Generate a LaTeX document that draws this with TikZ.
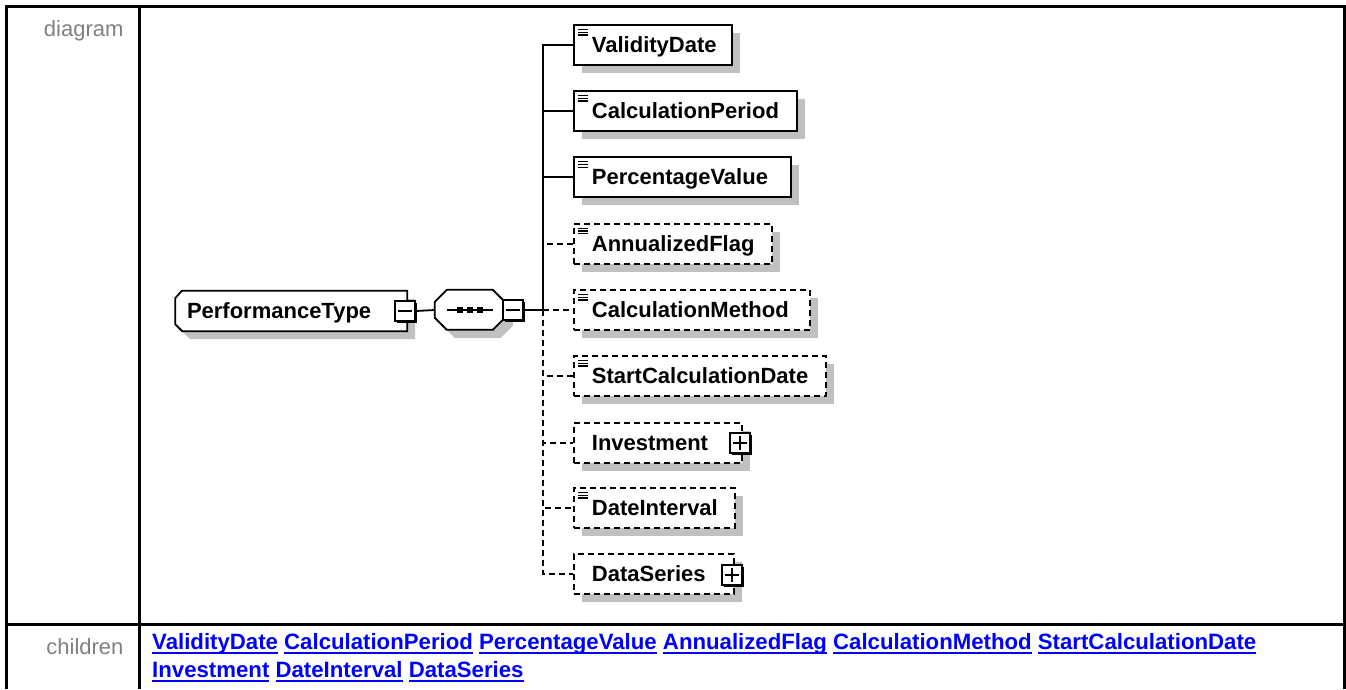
\documentclass[tikz,border=0pt]{standalone}
\usepackage{fontspec}
\setmainfont{Liberation Sans}
\usetikzlibrary{shadows,backgrounds}
\definecolor{shadowgray}{RGB}{192,192,192}
\definecolor{labelgray}{RGB}{128,128,128}
\definecolor{linkblue}{RGB}{0,0,255}
\newcommand{\lnk}[1]{\setbox0\hbox{#1}\rlap{\rule[-4.5pt]{\wd0}{1.6pt}}\box0\relax}
\begin{document}
\begin{tikzpicture}[x=1pt,y=-1pt,
  every node/.style={font=\bfseries\fontsize{22}{26}\selectfont},
  elem/.style={rectangle, draw=black, line width=1.8pt, fill=white, anchor=west,
    minimum height=40pt, inner xsep=0pt, inner ysep=0pt, align=left,
    text height=15pt, text depth=0pt,
    drop shadow={shadow xshift=8pt, shadow yshift=-8pt, fill=shadowgray, opacity=1}},
  optelem/.style={elem, dash pattern=on 6pt off 4pt},
  icon/.style={path picture={\foreach \k in {4.5,7.2,9.9}{\draw[solid,line width=1.2pt] ([xshift=4pt,yshift=-\k pt]path picture bounding box.north west) -- ++(10,0);}}},
  pmbox/.style={rectangle, draw=black, fill=white, line width=1.5pt, minimum width=20pt, minimum height=20pt, inner sep=0pt,
    drop shadow={shadow xshift=2pt, shadow yshift=-2pt, fill=black, opacity=1}},
  conn/.style={line width=1.8pt},
  optconn/.style={conn, dash pattern=on 6pt off 4pt},
  frame/.style={line width=2.6pt},
  lbl/.style={font=\mdseries\fontsize{22}{26}\selectfont, text=labelgray},
  links/.style={text=linkblue, anchor=base west, inner sep=0pt, font=\bfseries\fontsize{22.2}{26}\selectfont}
]
\useasboundingbox (0,0) rectangle (1346,689);

% table frame
\draw[frame] (6.5,689) -- (6.5,6.3) -- (1344.7,6.3) -- (1344.7,689);
\draw[frame] (139.7,6.3) -- (139.7,689);
\draw[frame] (6.5,624.5) -- (1344.7,624.5);

\node[lbl, anchor=base east] (ldiag) at (127,36) {diagram};
\node[lbl, anchor=base east] (lchild) at (127,654) {children};

% PerformanceType (complex type)
\node[rectangle, minimum width=232pt, minimum height=40pt, inner xsep=0pt, inner ysep=0pt,
  text width=232pt, align=left, text height=15pt, text depth=0pt] (pt) at (291,311) {\hspace*{12pt}PerformanceType};
% sequence compositor
\node[rectangle, minimum width=70pt, minimum height=40pt, inner sep=0pt] (seq) at (470,310) {};
\begin{scope}[on background layer]
  \fill[shadowgray] ([xshift=8pt,yshift=-8pt]pt.north west) ++(7,0) -- ([xshift=8pt,yshift=-8pt]pt.north east)
    -- ([xshift=8pt,yshift=-8pt]pt.south east) -- ++(-225,0) -- ++(-7,-7) -- ++(0,-26) -- cycle;
  \filldraw[fill=white, draw=black, line width=1.8pt] (pt.north west) ++(7,0) -- (pt.north east)
    -- (pt.south east) -- ++(-225,0) -- ++(-7,-7) -- ++(0,-26) -- cycle;
  \fill[shadowgray] ([xshift=8pt,yshift=-8pt]seq.north west) ++(12,0) -- ++(46,0) -- ++(12,12) -- ++(0,16)
    -- ++(-12,12) -- ++(-46,0) -- ++(-12,-12) -- ++(0,-16) -- cycle;
  \filldraw[fill=white, draw=black, line width=1.8pt] (seq.north west) ++(12,0) -- ++(46,0) -- ++(12,12) -- ++(0,16)
    -- ++(-12,12) -- ++(-46,0) -- ++(-12,-12) -- ++(0,-16) -- cycle;
\end{scope}
\draw[line width=1.8pt] ([xshift=12pt]seq.west) -- ([xshift=-12pt]seq.east);
\foreach \dx in {-10,0,10}{\fill ([xshift=\dx pt]seq.center) ++(-2.8,-2.8) rectangle ++(5.6,5.6);}

\node[pmbox] (m1) at (405,311) {};
\draw[line width=1.5pt] ([xshift=4pt]m1.west) -- ([xshift=-4pt]m1.east);
\node[pmbox] (m2) at (513,310) {};
\draw[line width=1.5pt] ([xshift=4pt]m2.west) -- ([xshift=-4pt]m2.east);

\draw[conn] (m1.east) -- (seq.west);
\coordinate (tj) at (543,310);
\draw[conn] (m2.east) -- (tj);

% children elements
\node[elem, icon, minimum width=158pt, text width=158pt] (vd) at (573,45) {\hspace*{18pt}ValidityDate};
\node[elem, icon, minimum width=223pt, text width=223pt] (cp) at (573,111.1) {\hspace*{18pt}CalculationPeriod};
\node[elem, icon, minimum width=217pt, text width=217pt] (pv) at (573,177.2) {\hspace*{18pt}PercentageValue};
\node[optelem, icon, minimum width=198pt, text width=198pt] (af) at (573,243.8) {\hspace*{18pt}AnnualizedFlag};
\node[optelem, icon, minimum width=236pt, text width=236pt] (cm) at (573,310) {\hspace*{18pt}CalculationMethod};
\node[optelem, icon, minimum width=252pt, text width=252pt] (scd) at (573,376) {\hspace*{18pt}StartCalculationDate};
\node[optelem, minimum width=168pt, text width=168pt] (inv) at (573,443) {\hspace*{18pt}Investment};
\node[optelem, icon, minimum width=161pt, text width=161pt] (di) at (573,508) {\hspace*{18pt}DateInterval};
\node[optelem, minimum width=160pt, text width=160pt] (ds) at (573,574) {\hspace*{18pt}DataSeries};

\node[pmbox] (p1) at (740,443) {};
\draw[line width=1.5pt] ([xshift=4pt]p1.west) -- ([xshift=-4pt]p1.east);
\draw[line width=1.5pt] ([yshift=4pt]p1.south) -- ([yshift=-4pt]p1.north);
\node[pmbox] (p2) at (732,575) {};
\draw[line width=1.5pt] ([xshift=4pt]p2.west) -- ([xshift=-4pt]p2.east);
\draw[line width=1.5pt] ([yshift=4pt]p2.south) -- ([yshift=-4pt]p2.north);

% connectors
\draw[conn] (tj) |- (vd.west);
\draw[conn] (tj) |- (cp.west);
\draw[conn] (tj) |- (pv.west);
\draw[optconn] (tj) |- (af.west);
\draw[optconn] (tj) |- (cm.west);
\draw[optconn] (tj) |- (scd.west);
\draw[optconn] (tj) |- (inv.west);
\draw[optconn] (tj) |- (di.west);
\draw[optconn] (tj) |- (ds.west);

% children links
\node[links] (ch1) at (152,649) {\lnk{ValidityDate} \lnk{CalculationPeriod} \lnk{PercentageValue} \lnk{AnnualizedFlag} \lnk{CalculationMethod} \lnk{StartCalculationDate}};
\node[links] (ch2) at (152,677) {\lnk{Investment} \lnk{DateInterval} \lnk{DataSeries}};
\end{tikzpicture}
\end{document}
